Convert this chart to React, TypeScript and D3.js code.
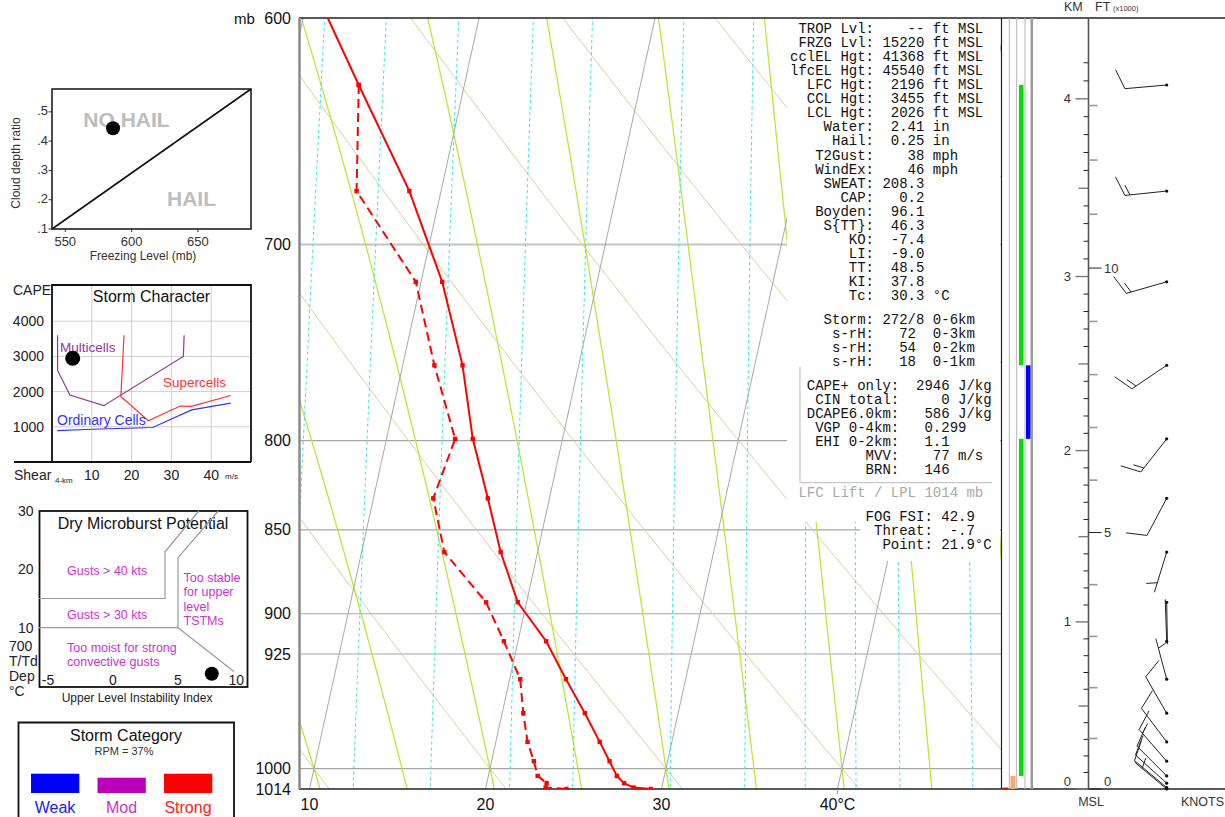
import React from "react";
import * as d3 from "d3";

// ---------- sounding levels (mb, °C, wind dir deg / kt) ----------
const levelP = [600, 628, 675, 718, 760, 799, 832, 863, 893, 917, 941, 963, 982, 995, 1005, 1010, 1013, 1014];
const levelT = [1.4, 4.0, 8.2, 11.2, 13.4, 14.9, 16.5, 17.9, 19.5, 21.6, 23.2, 24.7, 25.9, 26.7, 27.3, 27.8, 28.4, 29.4];
const levelTd = [null, 4.0, 5.2, 9.7, 11.8, 13.9, 13.4, 14.7, 17.7, 19.2, 20.6, 21.2, 21.8, 22.4, 22.8, 23.4, 23.4, 24.6];
const windDir = [null, 265, 264, 254, 236, 218, 208, 197, 179, 358, 345, 330, 323, 319, 315, 312, 310, 310];
const windKt = [null, 10, 15, 15, 15, 15, 10, 5, 2, 2, 5, 10, 10, 15, 10, 10, 10, 5];

// ---------- background lines ----------
const isobarLevels = [700, 800, 850, 900, 925, 1000];
const pressureLabels = [600, 700, 800, 850, 900, 925, 1000, 1014];
const isotherms = [0, 10, 20, 30, 40, 50];
const tempLabels = [10, 20, 30, 40];
const dryAdiabats = [0, 10, 20, 30, 40, 50, 60, 70, 80];
const moistAdiabats = [10, 15, 20, 25, 30, 35, 40, 45, 50, 55];
const mixingRatios = [7, 9, 12, 16, 20, 28, 36, 44, 52, 60, 76];

// side columns (mb ranges)
const greenLayers = [[628, 760], [799, 1005]];
const blueLayers = [[760, 799]];
const orangeLayers = [[1005, 1014]];
const redLayers = [[1013, 1014]];

// height axis ticks
const kmTicks = d3.range(0, 4.25, 0.1);
const ftTicks = d3.range(0, 14);

// ---------- text panel ----------
const indexLines = [
  " TROP Lvl:    -- ft MSL",
  " FRZG Lvl: 15220 ft MSL",
  "cclEL Hgt: 41368 ft MSL",
  "lfcEL Hgt: 45540 ft MSL",
  "  LFC Hgt:  2196 ft MSL",
  "  CCL Hgt:  3455 ft MSL",
  "  LCL Hgt:  2026 ft MSL",
  "    Water:  2.41 in",
  "     Hail:  0.25 in",
  "   T2Gust:    38 mph",
  "   WindEx:    46 mph",
  "    SWEAT: 208.3",
  "      CAP:   0.2",
  "   Boyden:  96.1",
  "    S{TT}:  46.3",
  "       KO:  -7.4",
  "       LI:  -9.0",
  "       TT:  48.5",
  "       KI:  37.8",
  "       Tc:  30.3 °C",
];
const stormLines = [
  "    Storm: 272/8 0-6km",
  "     s-rH:   72  0-3km",
  "     s-rH:   54  0-2km",
  "     s-rH:   18  0-1km",
];
const capeLines = [
  "  CAPE+ only:  2946 J/kg",
  "   CIN total:     0 J/kg",
  "  DCAPE6.0km:   586 J/kg",
  "   VGP 0-4km:   0.299",
  "   EHI 0-2km:   1.1",
  "         MVV:    77 m/s",
  "         BRN:   146",
];
const liftLine = " LFC Lift / LPL 1014 mb";
const fogLines = [
  "         FOG FSI: 42.9",
  "          Threat:  -.7",
  "           Point: 21.9°C",
];

// ---------- left panels ----------
const hailXTicks = [550, 600, 650];
const hailYTicks = [0.1, 0.2, 0.3, 0.4, 0.5];
const hailDivide = [[540, 0.1], [690, 0.578]];
const hailPoint = [586, 0.444];

const capeTicks = [1000, 2000, 3000, 4000];
const shearTicks = [10, 20, 30, 40];
const multicells = [[1.4, 3600], [1.4, 2600], [4.5, 1900], [13, 1600], [33, 3000], [33.2, 3600]];
const supercells = [[18.1, 3600], [17.3, 1860], [24.2, 1170], [32.2, 1590], [35, 1580], [44.9, 1890]];
const ordinaryCells = [[1.3, 890], [10, 930], [25.3, 980], [35.1, 1480], [44.9, 1670]];
const stormPoint = [5.2, 2946];

const mbXTicks = [-5, 0, 5, 10];
const mbYTicks = [10, 20, 30];
const mbLine40 = [[-5.7, 15], [4, 15], [4, 23], [6.6, 30]];
const mbLine30 = [[-5.7, 10], [5, 10], [5, 22], [8.1, 30]];
const mbLineStable = [[5, 10], [9.3, 2.5]];
const mbPoint = [7.6, 2.1];

const categories = ["Weak", "Mod", "Strong"];
const categoryFill = ["#0000ff", "#bb00bb", "#ff0000"];
const categoryText = ["#2020ff", "#cc33cc", "#ff2020"];

// ---------- skew-T geometry ----------
const yP = d3.scaleLog().domain([600, 1014]).range([18, 789]);
const xT = d3.scaleLinear().domain([10, 40]).range([309.5, 837.5]);
const SKEW = 0.22;
const sx = (t: number, p: number) => xT(t) + SKEW * (789 - yP(p));

const pRange = d3.range(580, 1036, 4);

function moistCurve(thw: number) {
  const Rd = 287.04, cp = 1005.7, Lv = 2.501e6, eps = 0.622;
  const f = (T: number, p: number) => {
    const Tk = T + 273.15;
    const es = 6.112 * Math.exp((17.67 * T) / (T + 243.5));
    const rs = (eps * es) / (p - es);
    return (Rd * Tk + Lv * rs) / (p * (cp + (Lv * Lv * rs * eps) / (Rd * Tk * Tk)));
  };
  const up: number[][] = [];
  const down: number[][] = [];
  for (const dir of [-1, 1]) {
    let T = thw, p = 1000;
    const out = dir < 0 ? up : down;
    out.push([p, T]);
    while (dir < 0 ? p > 570 : p < 1036) {
      const dp = 2 * dir;
      const k1 = f(T, p);
      const k2 = f(T + k1 * dp, p + dp);
      T += 0.5 * (k1 + k2) * dp;
      p += dp;
      out.push([p, T]);
    }
  }
  return [...down.reverse(), ...up];
}

const dewFromW = (w: number, p: number) => {
  const e = (w * p) / (622 + w);
  const l = Math.log(e / 6.112);
  return (243.5 * l) / (17.67 - l);
};

// heights from the sounding (hypsometric, virtual temperature)
const heights = (() => {
  const tv = levelP.map((p, i) => {
    const T = levelT[i];
    const td = levelTd[i] ?? T - 20;
    const e = 6.112 * Math.exp((17.67 * td) / (td + 243.5));
    const w = (0.622 * e) / (p - e);
    return (T + 273.15) * (1 + 0.61 * w);
  });
  const z = levelP.map(() => 0);
  for (let i = levelP.length - 2; i >= 0; i--) {
    z[i] = z[i + 1] + (287.04 / 9.80665) * 0.5 * (tv[i] + tv[i + 1]) * Math.log(levelP[i + 1] / levelP[i]);
  }
  return z;
})();
const zToY = d3.scaleLinear().domain(heights).range(levelP.map((p) => yP(p)));

const pathLine = d3.line<number[]>().x((d) => d[0]).y((d) => d[1]);

function barbPath(x0: number, y0: number, dir: number, spd: number) {
  const r = (dir * Math.PI) / 180;
  const ux = Math.sin(r), uy = -Math.cos(r);
  const L = 42;
  const ex = x0 + ux * L, ey = y0 + uy * L;
  const a = (69 * Math.PI) / 180;
  const bx = ux * Math.cos(a) - uy * Math.sin(a);
  const by = ux * Math.sin(a) + uy * Math.cos(a);
  let d = `M${x0},${y0}L${ex},${ey}`;
  let rem = Math.round(spd / 5) * 5;
  let pos = rem === 5 ? 10 : 0;
  while (rem >= 10) {
    const px = ex - ux * pos, py = ey - uy * pos;
    d += `M${px},${py}l${bx * 21},${by * 21}`;
    pos += 5;
    rem -= 10;
  }
  if (rem >= 5) {
    const px = ex - ux * pos, py = ey - uy * pos;
    d += `M${px},${py}l${bx * 11},${by * 11}`;
  }
  return d;
}

const MONO = "Liberation Mono, Courier New, monospace";
const SANS = "Liberation Sans, Arial, sans-serif";

export default function App() {
  // left panel scales
  const hx = d3.scaleLinear().domain([540, 690]).range([52, 251]);
  const hy = d3.scaleLinear().domain([0.1, 0.578]).range([229, 89]);
  const cx = d3.scaleLinear().domain([0, 50]).range([52, 251]);
  const cy = d3.scaleLinear().domain([0, 5000]).range([462, 286]);
  const mx = d3.scaleLinear().domain([-5, 10]).range([48, 243]);
  const my = d3.scaleLinear().domain([0, 30]).range([686, 511]);

  const tPts = levelP.map((p, i) => [sx(levelT[i], p), yP(p)]);
  const tdPts = levelP
    .map((p, i) => (levelTd[i] == null ? null : [sx(levelTd[i] as number, p), yP(p)]))
    .filter((d) => d != null) as number[][];

  const colX = { red: [1002.5, 1008], orange: [1010.5, 1015.5], green: [1019, 1023.5], blue: [1026, 1030.5] };
  const layerRects = (layers: number[][], c: number[], fill: string, key: string) =>
    layers.map((l, i) => (
      <rect key={key + i} x={c[0]} y={yP(l[0])} width={c[1] - c[0]} height={yP(l[1]) - yP(l[0])} fill={fill} />
    ));

  const axisX = 1088.5;
  const barbX = 1166.7;

  return (
    <svg
      width={1225}
      height={817}
      style={{ position: "absolute", left: 0, top: 0, display: "block", background: "#fff" }}
      fontFamily={SANS}
    >
      <defs>
        <clipPath id="plot">
          <rect x={300} y={18} width={701} height={771} />
        </clipPath>
      </defs>

      {/* ---------- skew-T background ---------- */}
      <g clipPath="url(#plot)" fill="none">
        {isobarLevels.map((p) => (
          <line key={"ib" + p} x1={300} x2={1001} y1={yP(p)} y2={yP(p)} stroke={p === 700 ? "#c4c4c4" : "#a6a6a6"} strokeWidth={p === 700 ? 1.8 : 1.2} />
        ))}
        {dryAdiabats.map((th) => (
          <path
            key={"da" + th}
            d={pathLine(pRange.map((p) => [sx((th + 273.15) * Math.pow(p / 1000, 0.2857) - 273.15, p), yP(p)])) || ""}
            stroke="#d8cda2"
            strokeWidth={1}
          />
        ))}
        {moistAdiabats.map((tw) => (
          <path
            key={"ma" + tw}
            d={pathLine(moistCurve(tw).map((d) => [sx(d[1], d[0]), yP(d[0])])) || ""}
            stroke="#bde639"
            strokeWidth={1.3}
          />
        ))}
        {isotherms.map((t) => (
          <line key={"it" + t} x1={sx(t, 1040)} y1={yP(1040)} x2={sx(t, 570)} y2={yP(570)} stroke="#a8a8a8" strokeWidth={1} />
        ))}
        {mixingRatios.map((w) => (
          <path
            key={"mr" + w}
            d={pathLine(pRange.map((p) => [sx(dewFromW(w, p), p), yP(p)])) || ""}
            stroke="#3fdede"
            strokeWidth={1}
            strokeDasharray="3,3"
          />
        ))}
      </g>

      {/* text panel backgrounds */}
      <rect x={787} y={19} width={213} height={503} fill="#fff" />
      <rect x={860} y={500} width={140} height={61} fill="#fff" />

      {/* frame */}
      <line x1={299} x2={1225} y1={18} y2={18} stroke="#222" strokeWidth={1.3} />
      <line x1={299} x2={1225} y1={789} y2={789} stroke="#222" strokeWidth={1.3} />
      <line x1={299.5} x2={299.5} y1={18} y2={789} stroke="#8a8a8a" strokeWidth={2.5} />
      <line x1={1001.5} x2={1001.5} y1={18} y2={789} stroke="#222" strokeWidth={1.2} />
      {[1009.3, 1016.7, 1025].map((x) => (
        <line key={"cl" + x} x1={x} x2={x} y1={18} y2={789} stroke="#b4b4b4" strokeWidth={1} />
      ))}
      <line x1={1031.8} x2={1031.8} y1={18} y2={789} stroke="#9a9a9a" strokeWidth={2.5} />

      {/* pressure labels */}
      <text x={234} y={18} fontSize={15} dominantBaseline="central" fill="#111">mb</text>
      {pressureLabels.map((p) => (
        <text key={"pl" + p} x={291} y={yP(p)} fontSize={16} textAnchor="end" dominantBaseline="central" fill="#111">
          {p}
        </text>
      ))}
      {tempLabels.map((t, i) => (
        <text key={"tl" + t} x={xT(t)} y={804} fontSize={16} textAnchor="middle" dominantBaseline="central" fill="#111">
          {i === tempLabels.length - 1 ? `${t}°C` : t}
        </text>
      ))}
      <line x1={xT(40)} x2={xT(40)} y1={789} y2={794} stroke="#999" />

      {/* sounding */}
      <g clipPath="url(#plot)">
        <path d={pathLine(tPts) || ""} fill="none" stroke="#ff0000" strokeWidth={2} />
        <path d={pathLine(tdPts) || ""} fill="none" stroke="#ff0000" strokeWidth={2} strokeDasharray="9,5" />
        {tPts.slice(1).map((d, i) => (
          <rect key={"tm" + i} x={d[0] - 2.2} y={d[1] - 2.2} width={4.4} height={4.4} fill="#ff0000" />
        ))}
        {tdPts.map((d, i) => (
          <rect key={"dm" + i} x={d[0] - 2.2} y={d[1] - 2.2} width={4.4} height={4.4} fill="#ff0000" />
        ))}
      </g>

      {/* indices text */}
      <g fontFamily={MONO} fontSize={14} fill="#111" style={{ whiteSpace: "pre" }}>
        {indexLines.map((s, i) => (
          <text key={"ix" + i} x={790} y={29 + i * 14.06} dominantBaseline="central" xmlSpace="preserve">{s}</text>
        ))}
        {stormLines.map((s, i) => (
          <text key={"st" + i} x={790} y={320 + i * 14.1} dominantBaseline="central" xmlSpace="preserve">{s}</text>
        ))}
        {capeLines.map((s, i) => (
          <text key={"cp" + i} x={790} y={386 + i * 14} dominantBaseline="central" xmlSpace="preserve">{s}</text>
        ))}
        <text x={790} y={493} dominantBaseline="central" xmlSpace="preserve" fill="#a8a8a8">{liftLine}</text>
        {fogLines.map((s, i) => (
          <text key={"fg" + i} x={790} y={516.5 + i * 14.2} dominantBaseline="central" xmlSpace="preserve">{s}</text>
        ))}
      </g>
      <path d="M800,366V482.7H992" fill="none" stroke="#c8c8c8" strokeWidth={1.2} />

      {/* side columns */}
      {layerRects(greenLayers, colX.green, "#00dd00", "g")}
      {layerRects(blueLayers, colX.blue, "#0000ff", "b")}
      {layerRects(orangeLayers, colX.orange, "#f7a86a", "o")}
      {layerRects(redLayers, colX.red, "#ff0000", "r")}

      {/* height axis */}
      <text x={1064} y={7} fontSize={12.5} dominantBaseline="central" fill="#333">KM</text>
      <text x={1095} y={7} fontSize={12.5} dominantBaseline="central" fill="#333">FT</text>
      <text x={1113} y={8} fontSize={7.5} dominantBaseline="central" fill="#333">(x1000)</text>
      <line x1={axisX} x2={axisX} y1={18} y2={789} stroke="#555" strokeWidth={1.6} />
      {kmTicks.map((k) => {
        const y = zToY(k * 1000);
        const r10 = Math.round(k * 10);
        const major = r10 % 10 === 0;
        const half = r10 % 5 === 0;
        return (
          <g key={"km" + r10}>
            <line x1={axisX - (major ? 13 : half ? 10 : 5)} x2={axisX} y1={y} y2={y} stroke={half ? "#777" : "#222"} strokeWidth={half ? 1.4 : 1} />
            {major && (
              <text x={1071} y={Math.min(y, 781)} fontSize={13} textAnchor="end" dominantBaseline="central" fill="#333">
                {r10 / 10}
              </text>
            )}
          </g>
        );
      })}
      {ftTicks.map((f) => {
        const y = zToY(f * 304.8);
        const lab = f % 5 === 0;
        return (
          <g key={"ft" + f}>
            <line x1={axisX} x2={axisX + (lab ? 13 : 9)} y1={y} y2={y} stroke={lab ? "#222" : "#999"} strokeWidth={lab ? 1 : 1.6} />
            {lab && (
              <text x={1104} y={Math.min(y, 781)} fontSize={13} dominantBaseline="central" fill="#333">
                {f}
              </text>
            )}
          </g>
        );
      })}
      <text x={1091} y={802} fontSize={12.5} textAnchor="middle" dominantBaseline="central" fill="#333">MSL</text>
      <text x={1181} y={802} fontSize={12.5} dominantBaseline="central" fill="#333">KNOTS</text>

      {/* wind barbs */}
      <g stroke="#222" strokeWidth={1} fill="none">
        {levelP.map((p, i) =>
          windDir[i] == null ? null : (
            <path key={"wb" + i} d={barbPath(barbX, yP(p), windDir[i] as number, windKt[i] as number)} />
          )
        )}
      </g>
      {levelP.map((p, i) =>
        windDir[i] == null ? null : <circle key={"wd" + i} cx={barbX} cy={yP(p)} r={1.6} fill="#111" />
      )}

      {/* ---------- hail panel ---------- */}
      <g>
        <rect x={52} y={89} width={199} height={140} fill="#fff" stroke="#111" strokeWidth={1.5} />
        <text x={126.5} y={127} fontSize={21} fontWeight="bold" textAnchor="middle" fill="#bdbdbd">NO HAIL</text>
        <text x={191.5} y={205.5} fontSize={21} fontWeight="bold" textAnchor="middle" fill="#bdbdbd">HAIL</text>
        <path d={pathLine(hailDivide.map((d) => [hx(d[0]), hy(d[1])])) || ""} stroke="#111" strokeWidth={1.6} fill="none" />
        {hailYTicks.map((t) => (
          <g key={"hy" + t}>
            <line x1={48.5} x2={52} y1={hy(t)} y2={hy(t)} stroke="#333" />
            <text x={48} y={hy(t) - 1} fontSize={13} textAnchor="end" dominantBaseline="central" fill="#333">
              {"." + Math.round(t * 10)}
            </text>
          </g>
        ))}
        {hailXTicks.map((t) => (
          <g key={"hx" + t}>
            <line x1={hx(t)} x2={hx(t)} y1={229} y2={232} stroke="#333" />
            <text x={hx(t)} y={241} fontSize={13} textAnchor="middle" dominantBaseline="central" fill="#333">{t}</text>
          </g>
        ))}
        <text x={143} y={256} fontSize={12} textAnchor="middle" dominantBaseline="central" fill="#333">Freezing Level (mb)</text>
        <text transform="translate(16,163) rotate(-90)" fontSize={12} textAnchor="middle" dominantBaseline="central" fill="#333">
          Cloud depth ratio
        </text>
        <circle cx={hx(hailPoint[0])} cy={hy(hailPoint[1])} r={7} fill="#000" />
      </g>

      {/* ---------- storm character ---------- */}
      <g>
        {capeTicks.map((t) => (
          <g key={"cy" + t}>
            <line x1={52} x2={251} y1={cy(t)} y2={cy(t)} stroke="#cfcfcf" />
            <text x={44} y={cy(t)} fontSize={14} textAnchor="end" dominantBaseline="central" fill="#222">{t}</text>
          </g>
        ))}
        {shearTicks.map((t) => (
          <g key={"cx" + t}>
            <line x1={cx(t)} x2={cx(t)} y1={285} y2={462} stroke="#cfcfcf" />
            <text x={cx(t)} y={475} fontSize={14} textAnchor="middle" dominantBaseline="central" fill="#222">{t}</text>
          </g>
        ))}
        <path d="M52,462V285H251V462" fill="none" stroke="#111" strokeWidth={1.8} />
        <line x1={14} x2={251} y1={462} y2={462} stroke="#111" strokeWidth={1.8} />
        <text x={13} y={290} fontSize={14} dominantBaseline="central" fill="#222">CAPE</text>
        <text x={151.5} y={296} fontSize={16} textAnchor="middle" dominantBaseline="central" fill="#111">Storm Character</text>
        <text x={14} y={475} fontSize={14} dominantBaseline="central" fill="#222">Shear</text>
        <text x={55} y={480} fontSize={8} dominantBaseline="central" fill="#222">4-km</text>
        <text x={225} y={476} fontSize={8} dominantBaseline="central" fill="#222">m/s</text>
        <path d={pathLine(multicells.map((d) => [cx(d[0]), cy(d[1])])) || ""} fill="none" stroke="#993399" strokeWidth={1.2} />
        <path d={pathLine(supercells.map((d) => [cx(d[0]), cy(d[1])])) || ""} fill="none" stroke="#ff3333" strokeWidth={1.2} />
        <path d={pathLine(ordinaryCells.map((d) => [cx(d[0]), cy(d[1])])) || ""} fill="none" stroke="#3333ff" strokeWidth={1.2} />
        <text x={60} y={347} fontSize={13.5} dominantBaseline="central" fill="#993399">Multicells</text>
        <text x={163} y={382} fontSize={13.5} dominantBaseline="central" fill="#ff3333">Supercells</text>
        <text x={57} y={420} fontSize={14} dominantBaseline="central" fill="#3333ff">Ordinary Cells</text>
        <circle cx={cx(stormPoint[0])} cy={cy(stormPoint[1])} r={7.5} fill="#000" />
      </g>

      {/* ---------- dry microburst ---------- */}
      <g>
        <rect x={39.5} y={511} width={208} height={176} fill="none" stroke="#111" strokeWidth={1.8} />
        <text x={143} y={523.5} fontSize={16} textAnchor="middle" dominantBaseline="central" fill="#111">Dry Microburst Potential</text>
        {[mbLine40, mbLine30, mbLineStable].map((l, i) => (
          <path key={"mb" + i} d={pathLine(l.map((d) => [mx(d[0]), my(d[1])])) || ""} fill="none" stroke="#9a9a9a" strokeWidth={1.2} />
        ))}
        {mbYTicks.map((t) => (
          <text key={"my" + t} x={33.5} y={my(t)} fontSize={14} textAnchor="end" dominantBaseline="central" fill="#222">{t}</text>
        ))}
        {mbXTicks.map((t, i) => (
          <text
            key={"mx" + t}
            x={i === mbXTicks.length - 1 ? 244 : mx(t)}
            y={679.5}
            fontSize={14}
            textAnchor={i === mbXTicks.length - 1 ? "end" : "middle"}
            dominantBaseline="central"
            fill="#222"
          >
            {t}
          </text>
        ))}
        {["700", "T/Td", "Dep", "°C"].map((s, i) => (
          <text key={"dep" + i} x={9} y={646.3 + i * 15} fontSize={14} dominantBaseline="central" fill="#222">{s}</text>
        ))}
        <text x={137} y={698} fontSize={12} textAnchor="middle" dominantBaseline="central" fill="#222">Upper Level Instability Index</text>
        <g fontSize={12.5} fill="#cc33cc">
          <text x={67} y={571} dominantBaseline="central">Gusts &gt; 40 kts</text>
          <text x={67} y={614.5} dominantBaseline="central">Gusts &gt; 30 kts</text>
          <text x={67} y={648} dominantBaseline="central">Too moist for strong</text>
          <text x={67} y={662.3} dominantBaseline="central">convective gusts</text>
          <text x={183.5} y={578} dominantBaseline="central">Too stable</text>
          <text x={183.5} y={592.3} dominantBaseline="central">for upper</text>
          <text x={183.5} y={606.5} dominantBaseline="central">level</text>
          <text x={183.5} y={621} dominantBaseline="central">TSTMs</text>
        </g>
        <circle cx={mx(mbPoint[0])} cy={my(mbPoint[1])} r={7} fill="#000" />
      </g>

      {/* ---------- storm category ---------- */}
      <g>
        <path d="M18.5,820V722.5H234V820" fill="none" stroke="#111" strokeWidth={1.8} />
        <text x={126} y={735.5} fontSize={16} textAnchor="middle" dominantBaseline="central" fill="#111">Storm Category</text>
        <text x={124} y={750.5} fontSize={11} textAnchor="middle" dominantBaseline="central" fill="#333">RPM = 37%</text>
        {categories.map((c, i) => {
          const x0 = 31 + i * 66.5;
          const top = i === 1 ? 777.7 : 773.7;
          return (
            <g key={c}>
              <rect x={x0} y={top} width={48.3} height={793 - top} fill={categoryFill[i]} />
              <text x={x0 + 24} y={807.5} fontSize={16} textAnchor="middle" dominantBaseline="central" fill={categoryText[i]}>
                {c}
              </text>
            </g>
          );
        })}
      </g>
    </svg>
  );
}
